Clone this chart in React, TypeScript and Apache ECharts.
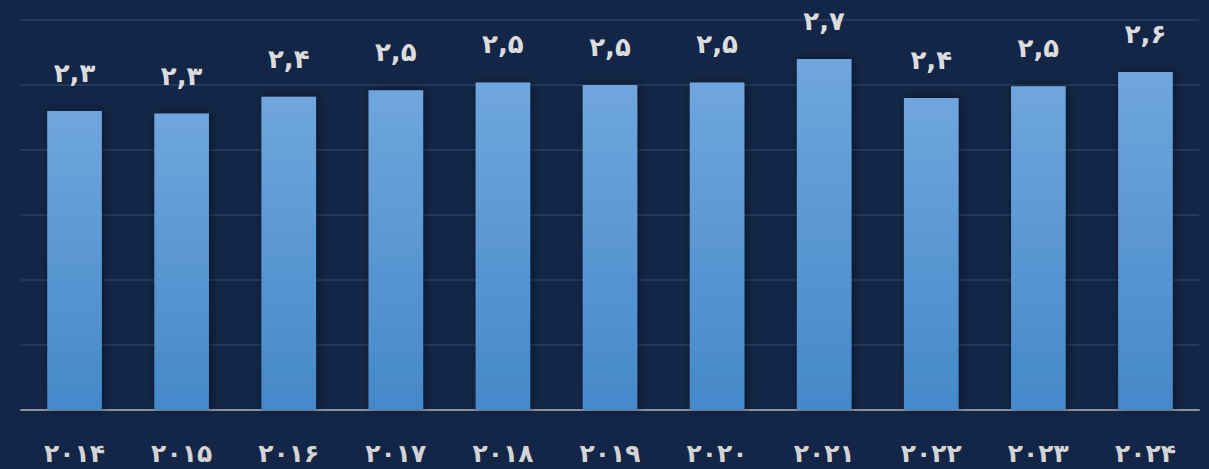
import React, { useEffect, useRef } from "react";
import * as echarts from "echarts";

const years = ["2014", "2015", "2016", "2017", "2018", "2019", "2020", "2021", "2022", "2023", "2024"];
const values = [2.30, 2.28, 2.41, 2.46, 2.52, 2.50, 2.52, 2.70, 2.40, 2.49, 2.60];
const yTicks = { min: 0, max: 3, interval: 0.5 };

const faDigits = ["۰", "۱", "۲", "۳", "۴", "۵", "۶", "۷", "۸", "۹"];
const toFa = (s: string) => s.replace(/[0-9]/g, (d) => faDigits[Number(d)]).replace(".", ",");

export default function App() {
  const ref = useRef<HTMLDivElement>(null);
  useEffect(() => {
    document.body.style.margin = "0";
    const chart = echarts.init(ref.current!, null, { renderer: "svg" });
    chart.setOption({
      animation: false,
      backgroundColor: "#132647",
      grid: { left: 21, right: 10, top: 20, bottom: 59, containLabel: false },
      xAxis: {
        type: "category",
        data: years,
        axisLine: { lineStyle: { color: "#8e949c", width: 2 } },
        axisTick: { show: false },
        axisLabel: {
          formatter: (v: string) => toFa(v),
          color: "#d4d4d4",
          fontSize: 25,
          fontWeight: "bold",
          fontFamily: "DejaVu Sans",
          margin: 31,
        },
      },
      yAxis: {
        type: "value",
        min: yTicks.min,
        max: yTicks.max,
        interval: yTicks.interval,
        axisLabel: { show: false },
        axisLine: { show: false },
        axisTick: { show: false },
        splitLine: { lineStyle: { color: "#26395b", width: 2 } },
      },
      series: [
        {
          type: "bar",
          data: values,
          barWidth: "51%",
          itemStyle: {
            color: new echarts.graphic.LinearGradient(0, 0, 0, 1, [
              { offset: 0, color: "#6fa6dd" },
              { offset: 1, color: "#4588c9" },
            ]),
            shadowColor: "rgba(0,0,0,0.45)",
            shadowBlur: 10,
            shadowOffsetX: 2,
          },
          label: {
            show: true,
            position: "top",
            distance: 25,
            formatter: (p: any) => toFa(Number(p.value).toFixed(1)),
            color: "#dcdcdc",
            fontSize: 26,
            fontWeight: "bold",
            fontFamily: "DejaVu Sans",
          },
        },
      ],
    });
    return () => chart.dispose();
  }, []);
  return <div ref={ref} style={{ width: 1209, height: 469 }} />;
}
